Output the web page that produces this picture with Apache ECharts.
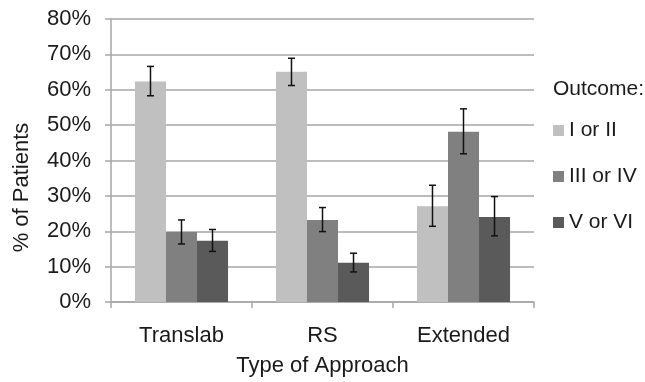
<!DOCTYPE html>
<html>
<head>
<meta charset="utf-8">
<script src="https://cdn.jsdelivr.net/npm/echarts@6/dist/echarts.min.js"></script>
<style>html,body{margin:0;padding:0;background:#fff}#c{width:645px;height:382px}</style>
</head>
<body>
<div id="c"></div>
<script>
var categories = ['Translab', 'RS', 'Extended'];
var seriesNames = ['I or II', 'III or IV', 'V or VI'];
var valuesI = [62.3, 65.1, 27.1];
var valuesIII = [19.8, 23.2, 48.1];
var valuesV = [17.3, 11.1, 24.0];
var lowI = [58.3, 61.2, 21.4];
var highI = [66.6, 68.9, 33.0];
var lowIII = [16.4, 19.9, 41.9];
var highIII = [23.2, 26.7, 54.6];
var lowV = [14.3, 8.5, 18.7];
var highV = [20.5, 13.8, 29.8];
var yTicks = [0, 10, 20, 30, 40, 50, 60, 70, 80];

var colors = ['#c0c0c0', '#808080', '#5a5a5a'];
var values = [valuesI, valuesIII, valuesV];
var lows = [lowI, lowIII, lowV];
var highs = [highI, highIII, highV];
var catGap = 0.34;
var font = 'Liberation Sans, Arial, sans-serif';
var fs = 22;
var lfs = 21;
var txt = '#1a1a1a';

var chart = echarts.init(document.getElementById('c'));
var series = [];
for (var s = 0; s < 3; s++) {
  series.push({
    name: seriesNames[s], type: 'bar', data: values[s],
    barGap: '0%', barCategoryGap: (catGap * 100) + '%',
    itemStyle: { color: colors[s] }, z: 2
  });
}
for (var s2 = 0; s2 < 3; s2++) {
  (function (si) {
    var d = [];
    for (var i = 0; i < categories.length; i++) d.push([i, lows[si][i], highs[si][i]]);
    series.push({
      type: 'custom', name: 'err' + si, data: d, z: 5,
      encode: { x: 0, y: [1, 2] },
      renderItem: function (params, api) {
        var ci = api.value(0);
        var lo = api.coord([ci, api.value(1)]);
        var hi = api.coord([ci, api.value(2)]);
        var bw = api.size([1, 0])[0] * (1 - catGap) / 3;
        var x = lo[0] + (si - 1) * bw;
        var hw = 3.5;
        var st = { stroke: '#111', lineWidth: 1.5 };
        return { type: 'group', children: [
          { type: 'line', shape: { x1: x, y1: lo[1], x2: x, y2: hi[1] }, style: st },
          { type: 'line', shape: { x1: x - hw, y1: lo[1], x2: x + hw, y2: lo[1] }, style: st },
          { type: 'line', shape: { x1: x - hw, y1: hi[1], x2: x + hw, y2: hi[1] }, style: st }
        ]};
      }
    });
  })(s2);
}

chart.setOption({
  animation: false,
  textStyle: { fontFamily: font },
  grid: { left: 111, right: 111, top: 19, bottom: 79, containLabel: false },
  title: { text: 'Outcome:', left: 548, top: 74, textStyle: { fontFamily: font, fontSize: lfs, fontWeight: 'normal', color: txt } },
  legend: {
    data: seriesNames, orient: 'vertical', left: 548, top: 115,
    icon: 'rect', itemWidth: 11, itemHeight: 11, itemGap: 25,
    textStyle: { fontFamily: font, fontSize: lfs, color: txt }
  },
  xAxis: {
    type: 'category', data: categories,
    name: 'Type of Approach', nameLocation: 'middle', nameGap: 53,
    nameTextStyle: { fontFamily: font, fontSize: fs, color: txt },
    axisLine: { lineStyle: { color: '#a6a6a6', width: 1.5 } },
    axisTick: { show: true, length: 6, lineStyle: { color: '#a6a6a6', width: 1.5 } },
    axisLabel: { fontFamily: font, fontSize: fs, color: txt, margin: 23 }
  },
  yAxis: {
    type: 'value', min: 0, max: 80, interval: 10,
    name: '% of Patients', nameLocation: 'middle', nameGap: 78, nameRotate: 90,
    nameTextStyle: { fontFamily: font, fontSize: fs, color: txt, padding: [0, 54, 0, 0] },
    axisLine: { show: true, lineStyle: { color: '#a6a6a6', width: 1.5 } },
    axisTick: { show: true, length: 6, lineStyle: { color: '#a6a6a6', width: 1.5 } },
    splitLine: { lineStyle: { color: '#a6a6a6', width: 1.5 } },
    axisLabel: {
      fontFamily: font, fontSize: fs, color: txt, margin: 20,
      formatter: function (v) { return yTicks.indexOf(v) >= 0 ? v + '%' : ''; }
    }
  },
  series: series
});
</script>
</body>
</html>
